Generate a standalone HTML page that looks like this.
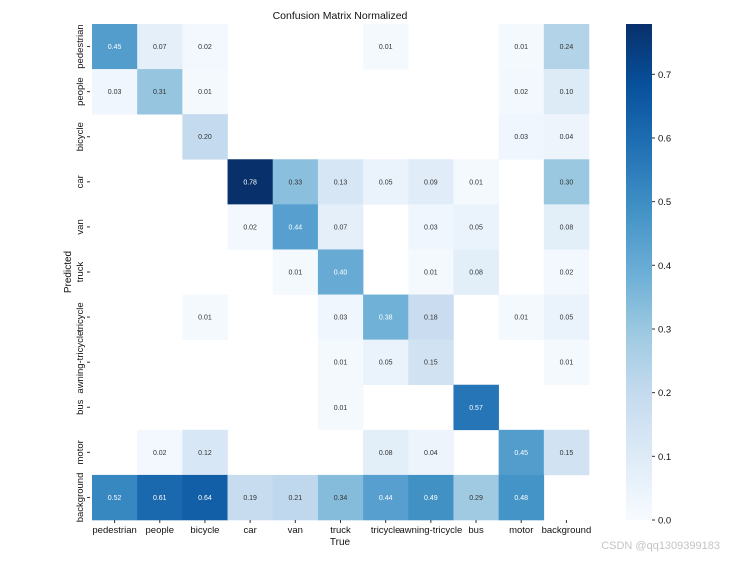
<!DOCTYPE html>
<html><head><meta charset="utf-8"><style>
body{margin:0;background:#fff;width:744px;height:558px;overflow:hidden;font-family:"Liberation Sans",sans-serif}
</style></head><body>
<svg id="chart" width="744" height="558" xmlns="http://www.w3.org/2000/svg">
<defs><linearGradient id="blues" x1="0" y1="1" x2="0" y2="0">
<stop offset="0" stop-color="#f7fbff"/><stop offset="0.125" stop-color="#deebf7"/><stop offset="0.25" stop-color="#c6dbef"/><stop offset="0.375" stop-color="#9ecae1"/><stop offset="0.5" stop-color="#6baed6"/><stop offset="0.625" stop-color="#4292c6"/><stop offset="0.75" stop-color="#2171b5"/><stop offset="0.875" stop-color="#08519c"/><stop offset="1" stop-color="#08306b"/></linearGradient></defs>
<text x="340" y="19" font-size="10.5" text-anchor="middle" fill="#111">Confusion Matrix Normalized</text>
<text x="340" y="545" font-size="10" text-anchor="middle" fill="#111">True</text>
<text transform="translate(71,272) rotate(-90)" font-size="10" text-anchor="middle" fill="#111">Predicted</text>
<g id="cells"></g><g id="xt"></g><g id="yt"></g>
<rect x="626" y="24" width="26" height="496" fill="url(#blues)"/>
<g id="cb"></g>
<text x="720" y="549" font-size="11" text-anchor="end" fill="#c4c4c4">CSDN @qq1309399183</text>
</svg>
<script>
const labels=["pedestrian","people","bicycle","car","van","truck","tricycle","awning-tricycle","bus","motor","background"];
const rowPedestrian=[.45,.07,.02,0,0,0,.01,0,0,.01,.24];
const rowPeople=[.03,.31,.01,0,0,0,0,0,0,.02,.10];
const rowBicycle=[0,0,.20,0,0,0,0,0,0,.03,.04];
const rowCar=[0,0,0,.78,.33,.13,.05,.09,.01,0,.30];
const rowVan=[0,0,0,.02,.44,.07,0,.03,.05,0,.08];
const rowTruck=[0,0,0,0,.01,.40,0,.01,.08,0,.02];
const rowTricycle=[0,0,.01,0,0,.03,.38,.18,0,.01,.05];
const rowAwning=[0,0,0,0,0,.01,.05,.15,0,0,.01];
const rowBus=[0,0,0,0,0,.01,0,0,.57,0,0];
const rowMotor=[0,.02,.12,0,0,0,.08,.04,0,.45,.15];
const rowBackground=[.52,.61,.64,.19,.21,.34,.44,.49,.29,.48,0];
const matrix=[rowPedestrian,rowPeople,rowBicycle,rowCar,rowVan,rowTruck,rowTricycle,rowAwning,rowBus,rowMotor,rowBackground];
const cbTicks=[0,0.1,0.2,0.3,0.4,0.5,0.6,0.7];
const VMAX=0.779;
const X0=92,X1=589,Y0=24,Y1=520;
const cw=(X1-X0)/labels.length,ch=(Y1-Y0)/labels.length;
const xs=i=>X0+i*cw, ys=j=>Y0+j*ch;
const cbY=v=>Y1-(v/VMAX)*(Y1-Y0);
const stops=[[247,251,255],[222,235,247],[198,219,239],[158,202,225],[107,174,214],[66,146,198],[33,113,181],[8,81,156],[8,48,107]];
function color(v){let t=Math.max(0,Math.min(1,v/VMAX))*8;let i=Math.min(7,Math.floor(t)),f=t-i;
const c=stops[i].map((a,k)=>Math.round(a+(stops[i+1][k]-a)*f));return `rgb(${c})`;}
const NS="http://www.w3.org/2000/svg";
function mk(tag,attrs,parent){const e=document.createElementNS(NS,tag);for(const k in attrs)e.setAttribute(k,attrs[k]);parent.appendChild(e);return e;}
const cells=document.getElementById('cells');
matrix.forEach((row,j)=>row.forEach((v,i)=>{
 if(v<=0)return;
 const r=mk('rect',{x:xs(i),y:ys(j),width:cw+0.3,height:ch+0.3,fill:color(v)},cells);
 
 
 const t=mk('text',{x:xs(i)+cw/2,y:ys(j)+ch/2+2.5,'font-size':7,'text-anchor':'middle',fill:v>0.37?'#fff':'#333'},cells);
 t.textContent=v.toFixed(2);
 
 
}));
const xt=document.getElementById('xt'),yt=document.getElementById('yt');
labels.forEach((l,i)=>{
 mk('line',{x1:xs(i)+cw/2,x2:xs(i)+cw/2,y1:Y1,y2:Y1+3,stroke:'#333'},xt);
 const t=mk('text',{x:xs(i)+cw/2,y:Y1+13,'font-size':9.5,'text-anchor':'middle',fill:'#111'},xt);
 t.textContent=l;
 
 
 mk('line',{x1:X0-5,x2:X0-2,y1:ys(i)+ch/2,y2:ys(i)+ch/2,stroke:'#333'},yt);
 const u=mk('text',{transform:`translate(${X0-9},${ys(i)+ch/2}) rotate(-90)`,'font-size':9.5,'text-anchor':'middle',fill:'#111'},yt);
 u.textContent=l;
 
 
});
const cb=document.getElementById('cb');
cbTicks.forEach(v=>{
 mk('line',{x1:652,x2:655,y1:cbY(v),y2:cbY(v),stroke:'#333'},cb);
 const t=mk('text',{x:658,y:cbY(v)+3.5,'font-size':9.5,fill:'#111'},cb);
 t.textContent=v.toFixed(1);
 
 
});
</script>
</body></html>
